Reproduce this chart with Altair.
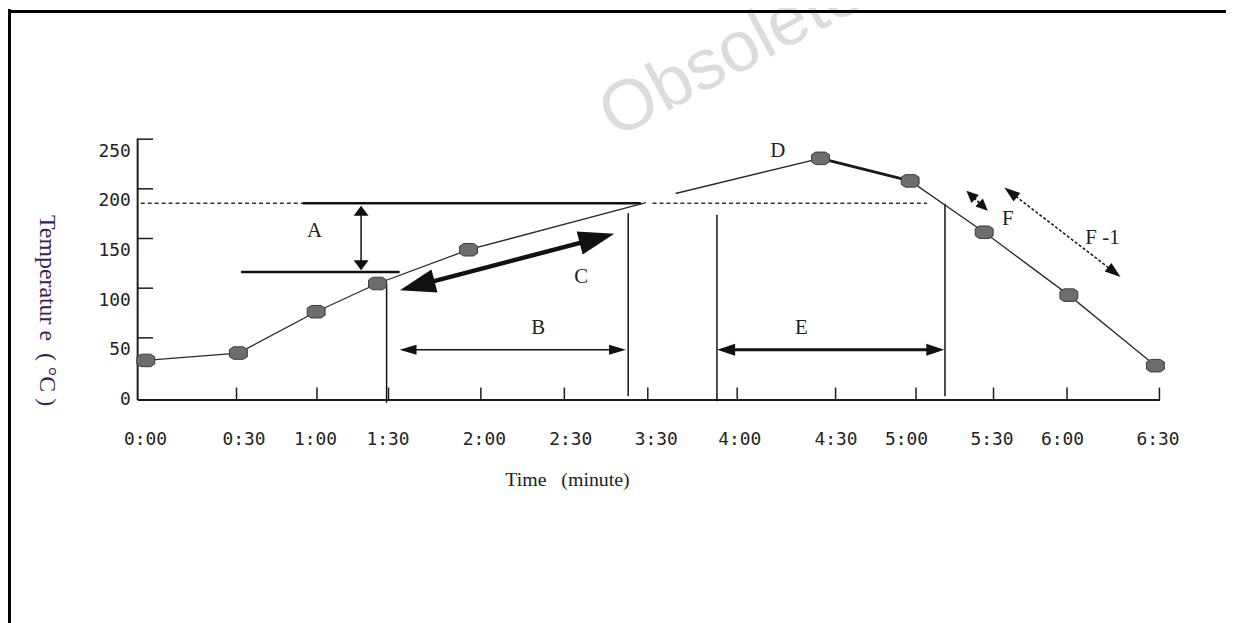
import math
import numpy as np
import pandas as pd
import altair as alt

# ---------------- data ----------------
TICK_SECONDS = [0, 30, 60, 90, 120, 150, 210, 240, 270, 300, 330, 360, 390]
TICK_LABELS = ["0:00", "0:30", "1:00", "1:30", "2:00", "2:30", "3:30",
               "4:00", "4:30", "5:00", "5:30", "6:00", "6:30"]
TEMP_TICKS = [0, 50, 100, 150, 200, 250]

# measured points on the profile (time in s, temperature in °C)
MARKER_TIME = [2.6, 30.7, 59.7, 85.4, 116.0, 265.4, 297.8, 326.4, 360.6, 388.7]
MARKER_TEMP = [39.3, 46.7, 88.3, 116.7, 150.7, 242.7, 220.0, 168.3, 105.0, 34.0]

# profile line pieces
RAMP_TIME = [2.6, 30.7, 59.7, 85.4, 116.0, 208.6]
RAMP_TEMP = [39.3, 46.7, 88.3, 116.7, 150.7, 198.0]
REFLOW_TIME = [219.3, 265.4]
REFLOW_TEMP = [207.3, 242.7]
PEAK_TIME = [265.4, 297.8]
PEAK_TEMP = [242.7, 220.0]
COOL_TIME = [297.8, 326.4, 360.6, 388.7]
COOL_TEMP = [220.0, 168.3, 105.0, 34.0]

# dashed liquidus level
LIQUIDUS_TEMP = [197.5, 197.5]
LIQUIDUS_START = [1.1, 211.6]
LIQUIDUS_END = [54.8, 304.3]

# heavy level lines of zone A
LEVEL_TEMP = [197.5, 128.3]
LEVEL_START = [54.8, 31.7]
LEVEL_END = [205.0, 93.6]

# vertical zone boundaries
VLINE_TIME = [89.2, 195.9, 233.2, 311.2]
VLINE_TOP = [117.0, 187.3, 186.0, 197.0]
VLINE_BOTTOM = [-3.3, 3.3, -1.7, 3.3]

# double-headed arrows
ARROW_NAMES = ["A", "B", "C", "E", "F", "F-1"]
ARROW_T0 = [78.5, 93.6, 93.7, 233.3, 319.5, 334.4]
ARROW_Y0 = [195.0, 50.0, 110.0, 50.0, 210.0, 213.3]
ARROW_T1 = [78.5, 194.3, 185.9, 310.9, 327.8, 377.4]
ARROW_Y1 = [130.0, 50.0, 166.7, 50.0, 190.0, 123.3]

# zone letters
LABEL_TEXT = ["A", "B", "C", "D", "E", "F", "F -1"]
LABEL_TIME = [59.1, 140.6, 162.1, 252.4, 259.6, 335.8, 371.5]
LABEL_TEMP = [170.0, 72.0, 123.3, 250.0, 72.0, 182.0, 162.0]

X_TITLE = "Time\u00a0\u00a0\u00a0(minute)"
Y_TITLE = "Temperatur e\u00a0\u00a0( °C )"

# ---------------- layout / style ----------------
W, H = 1029, 263
X_RANGE = [0, 100, 181, 253, 346, 430, 514, 604, 703, 784, 862, 936, 1029]
Y_TOP = 263
LABEL_NUDGE = [8, 7, -2, -1, 3, 6, 8, 2, 0, -10, -2, -5, -2]

ARROW_STYLE = {
    "A": dict(width=1.5, head_len=10, head_w=15, dash=None),
    "B": dict(width=1.4, head_len=17, head_w=10, dash=None),
    "C": dict(width=4.5, head_len=36, head_w=24, dash=None),
    "E": dict(width=3.0, head_len=18, head_w=12, dash=None),
    "F": dict(width=2.0, head_len=12, head_w=11, dash=[2, 2]),
    "F-1": dict(width=1.5, head_len=16, head_w=11, dash=[3, 2]),
}

INK = "#1c1c1c"

xscale = alt.Scale(domain=TICK_SECONDS, range=X_RANGE, nice=False, zero=False)
yscale = alt.Scale(domain=[0, Y_TOP], nice=False, zero=False)

label_expr = "{}[indexof({}, datum.value)]".format(
    "[" + ",".join("'%s'" % s for s in TICK_LABELS) + "]", TICK_SECONDS)
nudge_expr = "{}[indexof({}, datum.value)]".format(LABEL_NUDGE, TICK_SECONDS)

xaxis = alt.Axis(values=TICK_SECONDS, labelExpr=label_expr, ticks=False, tickSize=0,
                 grid=False, domainColor=INK, domainWidth=2,
                 labelFont="DejaVu Sans Mono", labelFontSize=18, labelColor="#222",
                 labelPadding=40, labelBaseline="middle", labelFlush=False,
                 labelOverlap=False, labelOffset=alt.ExprRef(expr=nudge_expr),
                 title=X_TITLE, titleFont="Liberation Serif",
                 titleFontSize=20, titleFontWeight="normal", titleColor="#222",
                 titleX=370, titleY=87, titleAlign="left", titleBaseline="alphabetic")
yaxis = alt.Axis(values=TEMP_TICKS, ticks=False, tickSize=0, grid=False,
                 domainColor=INK, domainWidth=2,
                 labelFont="DejaVu Sans Mono", labelFontSize=18, labelColor="#222",
                 labelPadding=7, labelBaseline="middle", labelFlush=False,
                 title=Y_TITLE, titleFont="Liberation Serif",
                 titleFontSize=24, titleFontWeight="normal", titleColor="#3b2150",
                 titleAngle=90, titleX=-91, titleY=173, titleAlign="center",
                 titleBaseline="middle")


def X(field="t"):
    return alt.X(field, type="quantitative", scale=xscale, axis=xaxis)


def Y(field="temp"):
    return alt.Y(field, type="quantitative", scale=yscale, axis=yaxis)


def px(t):
    return float(np.interp(t, TICK_SECONDS, X_RANGE))


def inv_px(p):
    return float(np.interp(p, X_RANGE, TICK_SECONDS))


def py(T):
    return H - T * H / Y_TOP


def inv_py(p):
    return (H - p) * Y_TOP / H


layers = []

# watermark
layers.append(
    alt.Chart(pd.DataFrame({"w": ["Obsolete"]})).mark_text(
        font="Liberation Sans", fontSize=72, angle=332, color="#dcdcdc",
        align="center", baseline="middle"
    ).encode(x=alt.value(598), y=alt.value(-86), text="w:N")
)

# frame of the figure
layers.append(alt.Chart(pd.DataFrame({"k": [0]})).mark_rule(color="#000", strokeWidth=3).encode(
    x=alt.value(-130), x2=alt.value(1100), y=alt.value(-127.5)))
layers.append(alt.Chart(pd.DataFrame({"k": [0]})).mark_rule(color="#000", strokeWidth=3).encode(
    x=alt.value(-128.5), y=alt.value(-130), y2=alt.value(490)))

# inward ticks
xt = pd.DataFrame({"t": TICK_SECONDS[1:], "temp": [0] * (len(TICK_SECONDS) - 1)})
layers.append(alt.Chart(xt).mark_rule(color=INK, strokeWidth=1.5).encode(
    x=X(), y=alt.value(H), y2=alt.value(H - 12)))
yt = pd.DataFrame({"t": [0] * (len(TEMP_TICKS) - 1), "temp": TEMP_TICKS[1:]})
layers.append(alt.Chart(yt).mark_rule(color=INK, strokeWidth=1.5, yOffset=-12).encode(
    y=Y(), x=alt.value(0), x2=alt.value(16)))

# dashed liquidus
liq = pd.DataFrame({"t": LIQUIDUS_START, "t2": LIQUIDUS_END, "temp": LIQUIDUS_TEMP})
layers.append(alt.Chart(liq).mark_rule(color="#333", strokeWidth=1.3, strokeDash=[4, 3]).encode(
    x=X(), x2="t2", y=Y()))

# heavy level lines
lev = pd.DataFrame({"t": LEVEL_START, "t2": LEVEL_END, "temp": LEVEL_TEMP})
layers.append(alt.Chart(lev).mark_rule(color="#111", strokeWidth=2.6).encode(
    x=X(), x2="t2", y=Y()))

# vertical boundaries
vl = pd.DataFrame({"t": VLINE_TIME, "temp": VLINE_TOP, "temp2": VLINE_BOTTOM})
layers.append(alt.Chart(vl).mark_rule(color="#111", strokeWidth=1.5).encode(
    x=X(), y=Y(), y2="temp2"))

# profile line
prof = pd.concat([
    pd.DataFrame({"t": RAMP_TIME, "temp": RAMP_TEMP, "seg": "ramp"}),
    pd.DataFrame({"t": REFLOW_TIME, "temp": REFLOW_TEMP, "seg": "reflow"}),
    pd.DataFrame({"t": COOL_TIME, "temp": COOL_TEMP, "seg": "cool"}),
])
layers.append(alt.Chart(prof).mark_line(color="#2a2a2a", strokeWidth=1.3).encode(
    x=X(), y=Y(), detail="seg:N"))
peak = pd.DataFrame({"t": PEAK_TIME, "temp": PEAK_TEMP})
layers.append(alt.Chart(peak).mark_line(color="#1a1a1a", strokeWidth=3).encode(x=X(), y=Y()))

# arrows
for name, t0, y0, t1, y1 in zip(ARROW_NAMES, ARROW_T0, ARROW_Y0, ARROW_T1, ARROW_Y1):
    st = ARROW_STYLE[name]
    p0 = np.array([px(t0), py(y0)])
    p1 = np.array([px(t1), py(y1)])
    d = p1 - p0
    u = d / np.linalg.norm(d)
    L = st["head_len"]
    s0 = p0 + u * L * 0.6
    s1 = p1 - u * L * 0.6
    shaft = pd.DataFrame({"t": [inv_px(s0[0])], "temp": [inv_py(s0[1])],
                          "t2": [inv_px(s1[0])], "temp2": [inv_py(s1[1])]})
    rule_kw = dict(color="#111", strokeWidth=st["width"])
    if st["dash"]:
        rule_kw["strokeDash"] = st["dash"]
    layers.append(alt.Chart(shaft).mark_rule(**rule_kw).encode(
        x=X(), y=Y(), x2="t2", y2="temp2"))
    ang1 = math.degrees(math.atan2(u[0], -u[1])) % 360
    ang0 = (ang1 + 180) % 360
    heads = pd.DataFrame({"t": [t0, t1], "temp": [y0, y1], "ang": [ang0, ang1]})
    r = st["head_w"] / (2 * L)
    path = "M0,0L{:.3f},1L{:.3f},1Z".format(r, -r)
    layers.append(alt.Chart(heads).mark_point(
        shape=path, size=(2 * L) ** 2, filled=True, color="#111", opacity=1
    ).encode(x=X(), y=Y(), angle=alt.Angle("ang:Q", scale=None)))

# markers
OCT = "M-1,-0.4L-0.55,-0.7L0.55,-0.7L1,-0.4L1,0.4L0.55,0.7L-0.55,0.7L-1,0.4Z"
mk = pd.DataFrame({"t": MARKER_TIME, "temp": MARKER_TEMP})
layers.append(alt.Chart(mk).mark_point(
    shape=OCT, size=324, filled=True, fill="#6d6d6d", stroke="#3a3a3a",
    strokeWidth=1, opacity=1).encode(x=X(), y=Y()))

# zone letters
lab = pd.DataFrame({"t": LABEL_TIME, "temp": LABEL_TEMP, "txt": LABEL_TEXT})
layers.append(alt.Chart(lab).mark_text(
    font="Liberation Serif", fontSize=21, color="#222", align="center", baseline="middle"
).encode(x=X(), y=Y(), text="txt:N"))

chart = alt.layer(*layers).properties(
    width=W, height=H,
    padding={"left": 130, "top": 129, "right": 67, "bottom": 223},
    autosize=alt.AutoSizeParams(type="none"),
    background="white",
).configure_view(stroke=None)

chart.save("out.html", embed_options={"renderer": "svg", "actions": False})
